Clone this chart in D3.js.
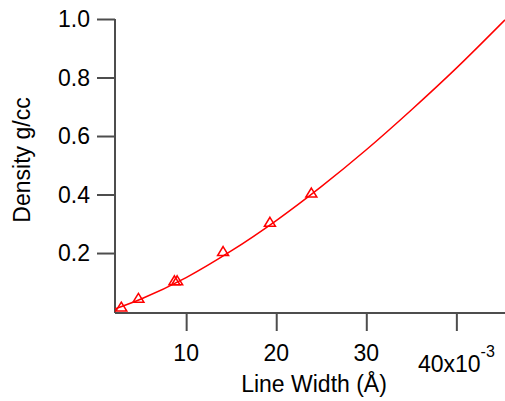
<!DOCTYPE html>
<html>
<head>
<meta charset="utf-8">
<script src="https://cdn.jsdelivr.net/npm/d3@7"></script>
<style>
  html, body { margin: 0; padding: 0; background: #fff; }
  svg { display: block; font-family: "Liberation Sans", Arial, sans-serif; }
</style>
</head>
<body>
<svg id="chart" width="505" height="401"></svg>
<script>
// Measured samples: line width (Å) vs density (g/cc)
const widthValues   = [2.8e-3, 4.7e-3, 8.7e-3, 9.0e-3, 14.1e-3, 19.3e-3, 23.9e-3];
const densityValues = [0.01, 0.04, 0.1, 0.1, 0.2, 0.3, 0.4];

// Fitted curve, sampled along the width axis
const fitWidth   = [2.1e-3, 5e-3, 10e-3, 15e-3, 20e-3, 25e-3, 30e-3, 35e-3, 40e-3, 45.4e-3];
const fitDensity = [0.009, 0.043, 0.116, 0.207, 0.311, 0.427, 0.553, 0.689, 0.832, 0.997];

// Axis ticks
const xTicks = [10e-3, 20e-3, 30e-3, 40e-3];
const xTickLabels = ["10", "20", "30", "40x10"];
const yTicks = [0.2, 0.4, 0.6, 0.8, 1.0];
const yTickLabels = ["0.2", "0.4", "0.6", "0.8", "1.0"];

const svg = d3.select("#chart");
const plotLeft = 115, plotRight = 505, plotTop = 19, plotBottom = 313;
const red = "#ff0000";
const axisColor = "#4d4d4d";
const fontSize = 23;

const x = d3.scaleLinear().domain([2.1e-3, 45.4e-3]).range([plotLeft, plotRight]);
const y = d3.scaleLinear().domain([-0.005, 1.0]).range([plotBottom, plotTop]);

// X axis
const xAxis = svg.append("g")
  .attr("transform", `translate(0,${plotBottom})`)
  .call(d3.axisBottom(x).tickValues(xTicks).tickSize(18).tickFormat(""));
xAxis.select(".domain").attr("d", `M${plotLeft},0H${plotRight}`);
xAxis.selectAll("path, line").attr("stroke", axisColor).attr("stroke-width", 2);

// Y axis
const yAxis = svg.append("g")
  .attr("transform", `translate(${plotLeft},0)`)
  .call(d3.axisLeft(y).tickValues(yTicks).tickSize(18).tickFormat(""));
yAxis.select(".domain").attr("d", `M0,${plotTop}V${plotBottom}`);
yAxis.selectAll("path, line").attr("stroke", axisColor).attr("stroke-width", 2);

// Y tick labels
svg.append("g").selectAll("text")
  .data(yTicks)
  .join("text")
  .attr("x", 90)
  .attr("y", d => y(d))
  .attr("dy", "0.36em")
  .attr("text-anchor", "end")
  .attr("font-size", fontSize)
  .attr("fill", "#000")
  .text((d, i) => yTickLabels[i]);

// X tick labels; the last one carries the exponent
const xl = svg.append("g");
xTicks.forEach((t, i) => {
  const last = i === xTicks.length - 1;
  const txt = xl.append("text")
    .attr("x", x(t))
    .attr("y", last ? 372 : 361)
    .attr("text-anchor", "middle")
    .attr("font-size", fontSize)
    .attr("fill", "#000");
  txt.append("tspan").text(xTickLabels[i]);
  if (last) {
    txt.append("tspan")
      .attr("dy", -15)
      .attr("font-size", 16)
      .text("-3");
  }
});

// Axis titles
svg.append("text")
  .attr("x", 314)
  .attr("y", 392)
  .attr("text-anchor", "middle")
  .attr("font-size", fontSize)
  .attr("fill", "#000")
  .text("Line Width (Å)");

svg.append("text")
  .attr("transform", `translate(30,${(plotTop + plotBottom) / 2 - 6}) rotate(-90)`)
  .attr("text-anchor", "middle")
  .attr("font-size", fontSize)
  .attr("fill", "#000")
  .text("Density g/cc");

// Fitted curve
const fitData = fitWidth.map((w, i) => [w, fitDensity[i]]);
svg.append("path")
  .datum(fitData)
  .attr("fill", "none")
  .attr("stroke", red)
  .attr("stroke-width", 1.5)
  .attr("d", d3.line().x(d => x(d[0])).y(d => y(d[1])).curve(d3.curveMonotoneX));

// Open triangle markers
const tri = "M0,-6.5L5.5,2.5L-5.5,2.5Z";
svg.append("g").selectAll("path")
  .data(widthValues.map((w, i) => [w, densityValues[i]]))
  .join("path")
  .attr("transform", d => `translate(${x(d[0])},${y(d[1])})`)
  .attr("d", tri)
  .attr("fill", "none")
  .attr("stroke", red)
  .attr("stroke-width", 1.5);
</script>
</body>
</html>
